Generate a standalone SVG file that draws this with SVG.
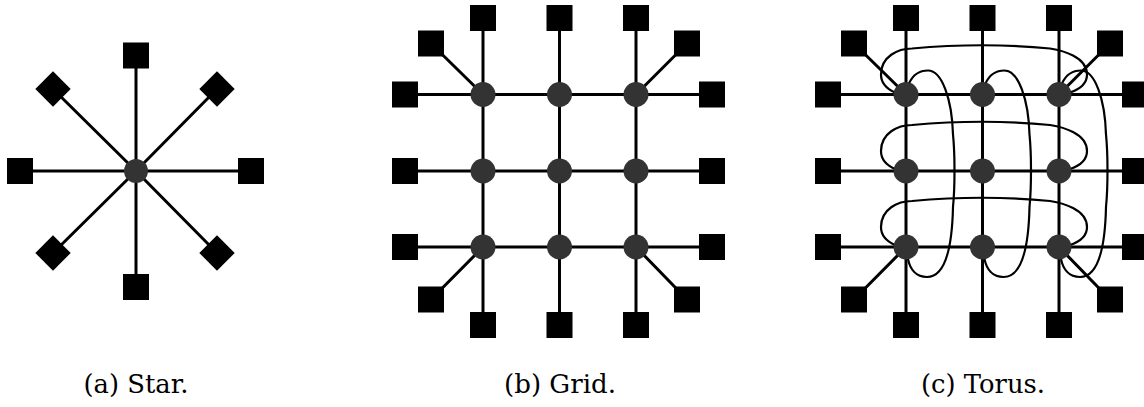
<svg xmlns="http://www.w3.org/2000/svg" width="1144" height="407" viewBox="0 0 1144 407">
<style>
.e{stroke:#000;stroke-width:3;fill:none}
.w{stroke:#000;stroke-width:2.2;fill:none}
.s{fill:#000}
.n{fill:#333}
</style>
<rect width="1144" height="407" fill="#fff"/>
<!-- connectors -->
<g id="connectors">
  <!-- star -->
  <path class="e" d="M136,171V55.5M136,171V287M136,171H20M136,171H251M136,171L53,89M136,171L217,89M136,171L53,253M136,171L217,253"/>
  <!-- grid -->
  <path class="e" d="M405,94.5H712M405,171H712M405,247H712M483,18V325M559.5,18V325M636,18V325M483,94.5L431,43.5M636,94.5L687,43.5M483,247L431,299.5M636,247L687,299.5"/>
  <!-- torus mesh -->
  <path class="e" d="M828,94.5H1135M828,171H1135M828,247H1135M906,18V325M982.5,18V325M1059,18V325M906,94.5L854,43.5M1059,94.5L1110,43.5M906,247L854,299.5M1059,247L1110,299.5"/>
  <!-- torus wrap rows -->
  <path class="w" d="M895,92.5 C886,88.5 881,82.5 881,74.5 C881,56.5 898,48.5 912,48.5 C956,44.5 1009,44.5 1050,48.5 C1062,50.5 1087,56.5 1087,74.5 C1087,84.5 1079,89.5 1070,92.5"/>
  <path class="w" d="M895,169 C886,165 881,159 881,151 C881,133 898,125 912,125 C956,121 1009,121 1050,125 C1062,127 1087,133 1087,151 C1087,161 1079,166 1070,169"/>
  <path class="w" d="M895,245 C886,241 881,235 881,227 C881,209 898,201 912,201 C956,197 1009,197 1050,201 C1062,203 1087,209 1087,227 C1087,237 1079,242 1070,245"/>
  <!-- torus wrap columns -->
  <path class="w" d="M909,83.5 C913,74.5 919,70.5 928,70.5 C942,70.5 952,99.5 953,134.5 C955,154 955,187 953,207 C952,252 944,277 927,277 C916,277 910,269 908,259"/>
  <path class="w" d="M985.5,83.5 C989.5,74.5 995.5,70.5 1004.5,70.5 C1018.5,70.5 1028.5,99.5 1029.5,134.5 C1031.5,154 1031.5,187 1029.5,207 C1028.5,252 1020.5,277 1003.5,277 C992.5,277 986.5,269 984.5,259"/>
  <path class="w" d="M1062,83.5 C1066,74.5 1072,70.5 1081,70.5 C1095,70.5 1105,99.5 1106,134.5 C1108,154 1108,187 1106,207 C1105,252 1097,277 1080,277 C1069,277 1063,269 1061,259"/>
</g>
<!-- star nodes -->
<g id="star-hub"><circle class="n" cx="136" cy="171" r="12"/></g>
<g id="star-t"><rect class="s" x="123" y="42.5" width="26" height="26"/></g>
<g id="star-b"><rect class="s" x="123" y="274" width="26" height="26"/></g>
<g id="star-l"><rect class="s" x="7" y="158" width="26" height="26"/></g>
<g id="star-r"><rect class="s" x="238" y="158" width="26" height="26"/></g>
<g id="star-tl"><rect class="s" x="40.5" y="76.5" width="25" height="25" transform="rotate(45 53 89)"/></g>
<g id="star-tr"><rect class="s" x="204.5" y="76.5" width="25" height="25" transform="rotate(45 217 89)"/></g>
<g id="star-bl"><rect class="s" x="40.5" y="240.5" width="25" height="25" transform="rotate(45 53 253)"/></g>
<g id="star-br"><rect class="s" x="204.5" y="240.5" width="25" height="25" transform="rotate(45 217 253)"/></g>
<!-- grid terminals -->
<g id="grid-t1"><rect class="s" x="470" y="5" width="26" height="26"/></g>
<g id="grid-t2"><rect class="s" x="546.5" y="5" width="26" height="26"/></g>
<g id="grid-t3"><rect class="s" x="623" y="5" width="26" height="26"/></g>
<g id="grid-b1"><rect class="s" x="470" y="312" width="26" height="26"/></g>
<g id="grid-b2"><rect class="s" x="546.5" y="312" width="26" height="26"/></g>
<g id="grid-b3"><rect class="s" x="623" y="312" width="26" height="26"/></g>
<g id="grid-l1"><rect class="s" x="392" y="81.5" width="26" height="26"/></g>
<g id="grid-l2"><rect class="s" x="392" y="158" width="26" height="26"/></g>
<g id="grid-l3"><rect class="s" x="392" y="234" width="26" height="26"/></g>
<g id="grid-r1"><rect class="s" x="699" y="81.5" width="26" height="26"/></g>
<g id="grid-r2"><rect class="s" x="699" y="158" width="26" height="26"/></g>
<g id="grid-r3"><rect class="s" x="699" y="234" width="26" height="26"/></g>
<g id="grid-ctl"><rect class="s" x="418" y="30.5" width="26" height="26"/></g>
<g id="grid-ctr"><rect class="s" x="674" y="30.5" width="26" height="26"/></g>
<g id="grid-cbl"><rect class="s" x="418" y="286.5" width="26" height="26"/></g>
<g id="grid-cbr"><rect class="s" x="674" y="286.5" width="26" height="26"/></g>
<!-- grid nodes -->
<g id="grid-n11"><circle class="n" cx="483" cy="94.5" r="12.5"/></g>
<g id="grid-n12"><circle class="n" cx="559.5" cy="94.5" r="12.5"/></g>
<g id="grid-n13"><circle class="n" cx="636" cy="94.5" r="12.5"/></g>
<g id="grid-n21"><circle class="n" cx="483" cy="171" r="12.5"/></g>
<g id="grid-n22"><circle class="n" cx="559.5" cy="171" r="12.5"/></g>
<g id="grid-n23"><circle class="n" cx="636" cy="171" r="12.5"/></g>
<g id="grid-n31"><circle class="n" cx="483" cy="247" r="12.5"/></g>
<g id="grid-n32"><circle class="n" cx="559.5" cy="247" r="12.5"/></g>
<g id="grid-n33"><circle class="n" cx="636" cy="247" r="12.5"/></g>
<!-- torus terminals -->
<g id="torus-t1"><rect class="s" x="893" y="5" width="26" height="26"/></g>
<g id="torus-t2"><rect class="s" x="969.5" y="5" width="26" height="26"/></g>
<g id="torus-t3"><rect class="s" x="1046" y="5" width="26" height="26"/></g>
<g id="torus-b1"><rect class="s" x="893" y="312" width="26" height="26"/></g>
<g id="torus-b2"><rect class="s" x="969.5" y="312" width="26" height="26"/></g>
<g id="torus-b3"><rect class="s" x="1046" y="312" width="26" height="26"/></g>
<g id="torus-l1"><rect class="s" x="815" y="81.5" width="26" height="26"/></g>
<g id="torus-l2"><rect class="s" x="815" y="158" width="26" height="26"/></g>
<g id="torus-l3"><rect class="s" x="815" y="234" width="26" height="26"/></g>
<g id="torus-r1"><rect class="s" x="1122" y="81.5" width="26" height="26"/></g>
<g id="torus-r2"><rect class="s" x="1122" y="158" width="26" height="26"/></g>
<g id="torus-r3"><rect class="s" x="1122" y="234" width="26" height="26"/></g>
<g id="torus-ctl"><rect class="s" x="841" y="30.5" width="26" height="26"/></g>
<g id="torus-ctr"><rect class="s" x="1097" y="30.5" width="26" height="26"/></g>
<g id="torus-cbl"><rect class="s" x="841" y="286.5" width="26" height="26"/></g>
<g id="torus-cbr"><rect class="s" x="1097" y="286.5" width="26" height="26"/></g>
<!-- torus nodes -->
<g id="torus-n11"><circle class="n" cx="906" cy="94.5" r="12.5"/></g>
<g id="torus-n12"><circle class="n" cx="982.5" cy="94.5" r="12.5"/></g>
<g id="torus-n13"><circle class="n" cx="1059" cy="94.5" r="12.5"/></g>
<g id="torus-n21"><circle class="n" cx="906" cy="171" r="12.5"/></g>
<g id="torus-n22"><circle class="n" cx="982.5" cy="171" r="12.5"/></g>
<g id="torus-n23"><circle class="n" cx="1059" cy="171" r="12.5"/></g>
<g id="torus-n31"><circle class="n" cx="906" cy="247" r="12.5"/></g>
<g id="torus-n32"><circle class="n" cx="982.5" cy="247" r="12.5"/></g>
<g id="torus-n33"><circle class="n" cx="1059" cy="247" r="12.5"/></g>
<!-- captions -->
<g font-family="'DejaVu Serif', serif" font-size="26" fill="#000" text-anchor="middle">
<text x="136" y="393" textLength="105" lengthAdjust="spacingAndGlyphs">(a) Star.</text>
<text x="560" y="393" textLength="112" lengthAdjust="spacingAndGlyphs">(b) Grid.</text>
<text x="983" y="393" textLength="124" lengthAdjust="spacingAndGlyphs">(c) Torus.</text>
</g>
</svg>
